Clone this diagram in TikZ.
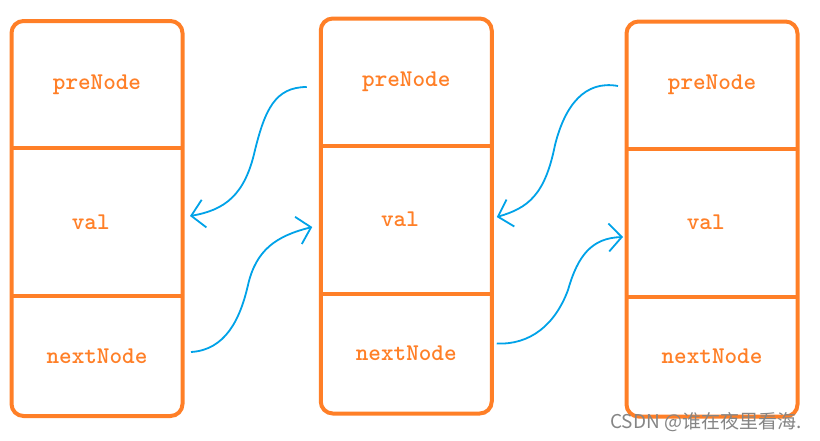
\documentclass[tikz,border=0pt]{standalone}
\usepackage{fontspec}
\newfontfamily\cjk{Noto Sans CJK SC}
\usetikzlibrary{positioning,arrows.meta}

\definecolor{orng}{HTML}{FF7F27}
\definecolor{skyb}{HTML}{00A2E8}

\begin{document}
\begin{tikzpicture}[x=1pt, y=-1pt, line width=4pt,
  box/.style={draw=orng, line width=4pt},
  link/.style={draw=skyb, line width=1.8pt, -{Straight Barb[length=13pt, width=28pt]}}]

\tikzstyle{every node}=[rectangle, inner sep=0pt, outer sep=0pt, minimum width=171pt,
  text=orng, font=\ttfamily\bfseries\fontsize{24}{27}\selectfont]
\useasboundingbox (0,0) rectangle (820,440);

% the three list nodes
\draw    (97,   84.5)  node[minimum height=127pt] (pre1) {preNode};
\node[below=0pt of pre1, minimum height=148pt] (val1) {val\phantom{x}};
\node[below=0pt of val1, minimum height=120pt] (next1) {nextNode};

\draw    (406.25, 82)  node[minimum height=127pt] (pre2) {preNode};
\node[below=0pt of pre2, minimum height=148pt] (val2) {val\phantom{x}};
\node[below=0pt of val2, minimum height=120pt] (next2) {nextNode};

\draw    (712,  85)    node[minimum height=127pt] (pre3) {preNode};
\node[below=0pt of pre3, minimum height=148pt] (val3) {val\phantom{x}};
\node[below=0pt of val3, minimum height=120pt] (next3) {nextNode};

\foreach \i in {1,2,3} {
  \draw[box, rounded corners=12pt] (pre\i.north west) rectangle (next\i.south east);
  \draw[box] (pre\i.south west) -- (pre\i.south east);
  \draw[box] (val\i.south west) -- (val\i.south east);
}

% links
\draw[link] ([xshift=-14pt, yshift=-5pt]pre2.west)
  .. controls (275,87) and (265,110) .. (255,150)
  .. controls (245,195) and (225,210) .. ([xshift=7.5pt, yshift=6pt]val1.east);
\draw[link] ([xshift=8.5pt, yshift=4pt]next1.east)
  .. controls (225,350) and (240,320) .. (248,285)
  .. controls (256,250) and (276,236) .. ([xshift=-8.5pt, yshift=-7.5pt]val2.west);
\draw[link] ([xshift=-8.5pt, yshift=-1pt]pre3.west)
  .. controls (585,80) and (565,105) .. (555,145)
  .. controls (545,195) and (528,208) .. ([xshift=5pt, yshift=2.5pt]val2.east);
\draw[link] ([xshift=5pt, yshift=10pt]next2.east)
  .. controls (530,345) and (555,325) .. (568,290)
  .. controls (578,255) and (592,238) .. ([xshift=-3.5pt, yshift=-14.5pt]val3.west);

\node[minimum width=0pt, text=black!48, font=\cjk\fontsize{19}{22}\selectfont] (mark) at (706,422) {CSDN @谁在夜里看海.};

\end{tikzpicture}
\end{document}
